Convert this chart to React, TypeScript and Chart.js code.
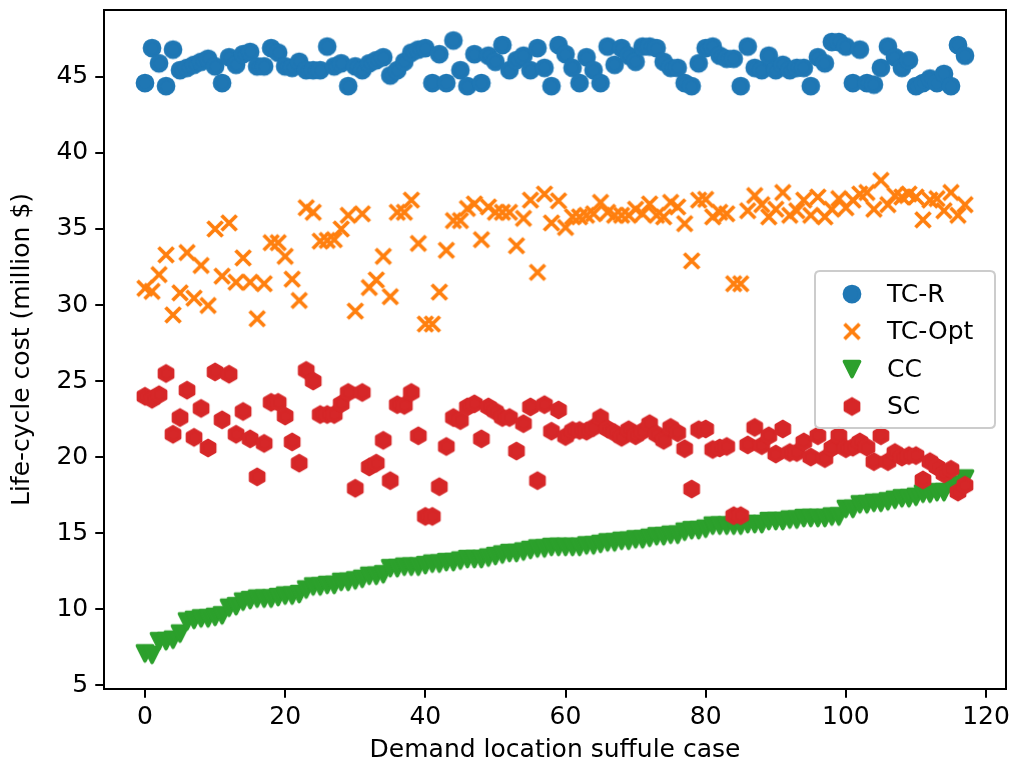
import React, { useEffect, useRef } from 'react';
import { Chart, registerables } from 'chart.js';

Chart.register(...registerables);

const FONT = '"DejaVu Sans", "Liberation Sans", sans-serif';
const FS = 25;

// x categories: demand location shuffle case index
const caseIndex: number[] = Array.from({ length: 118 }, (_, i) => i);

const xTicks = [0, 20, 40, 60, 80, 100, 120];
const yTicks = [5, 10, 15, 20, 25, 30, 35, 40, 45];

const seriesNames = ['TC-R', 'TC-Opt', 'CC', 'SC'];
const seriesColors = ['#1f77b4', '#ff7f0e', '#2ca02c', '#d62728'];

const tcR = [
  44.6, 46.9, 45.9, 44.4, 46.8, 45.45, 45.6, 45.8, 46.0, 46.2,
  45.7, 44.6, 46.3, 45.8, 46.5, 46.65, 45.7, 45.7, 46.9, 46.6,
  45.7, 45.6, 46.0, 45.45, 45.45, 45.45, 47.0, 45.7, 45.9, 44.4,
  45.7, 45.45, 45.9, 46.1, 46.3, 45.1, 45.45, 46.0, 46.6, 46.8,
  46.9, 44.6, 46.5, 44.6, 47.4, 45.45, 44.4, 46.5, 44.6, 46.4,
  46.0, 47.1, 45.45, 46.1, 46.4, 45.45, 46.9, 45.6, 44.4, 47.1,
  46.5, 45.6, 44.6, 46.3, 45.45, 44.6, 47.0, 45.8, 46.9, 46.4,
  46.0, 47.0, 47.0, 46.9, 46.0, 45.6, 45.6, 44.6, 44.4, 45.9,
  46.9, 47.0, 46.4, 46.2, 46.2, 44.4, 47.0, 45.6, 45.45, 46.4,
  45.45, 45.8, 45.45, 45.6, 45.6, 44.4, 46.3, 45.9, 47.3, 47.3,
  47.0, 44.6, 46.8, 44.6, 44.5, 45.6, 47.0, 46.3, 45.6, 46.1,
  44.4, 44.6, 44.9, 44.6, 45.2, 44.4, 47.1, 46.4,
];

const tcOpt = [
  31.1, 30.9, 32.0, 33.3, 29.35, 30.8, 33.45, 30.45, 32.6, 29.97,
  35.0, 31.9, 35.4, 31.5, 33.1, 31.5, 29.1, 31.4, 34.1, 34.1,
  33.2, 31.7, 30.3, 36.4, 36.1, 34.2, 34.25, 34.3, 35.0, 35.9,
  29.6, 36.0, 31.15, 31.65, 33.2, 30.55, 36.1, 36.1, 36.9, 34.05,
  28.75, 28.75, 30.85, 33.6, 35.55, 35.55, 36.35, 36.65, 34.3, 36.45,
  36.1, 36.1, 36.1, 33.9, 35.7, 36.9, 32.15, 37.3, 35.4, 36.85,
  35.1, 35.8, 35.8, 35.9, 36.0, 36.75, 36.1, 35.9, 35.9, 35.9,
  36.3, 36.0, 36.65, 35.9, 35.8, 36.75, 36.45, 35.35, 32.9, 36.9,
  36.95, 35.8, 36.1, 36.0, 31.4, 31.4, 36.2, 37.2, 36.6, 35.8,
  36.3, 37.4, 35.9, 36.2, 36.9, 35.9, 37.1, 35.8, 36.3, 37.0,
  36.4, 36.9, 37.3, 37.4, 36.3, 38.2, 36.6, 37.2, 37.1, 37.3,
  37.1, 35.6, 36.9, 37.0, 36.2, 37.4, 35.9, 36.6,
];

const cc = [
  7.1, 7.0, 7.9, 7.9, 8.0, 8.4, 9.2, 9.3, 9.4, 9.4,
  9.5, 9.6, 10.1, 10.2, 10.5, 10.6, 10.7, 10.7, 10.7, 10.8,
  10.9, 10.9, 11.0, 11.3, 11.5, 11.5, 11.6, 11.6, 11.8, 11.8,
  11.9, 12.0, 12.2, 12.2, 12.3, 12.7, 12.7, 12.8, 12.8, 12.8,
  12.9, 13.0, 13.0, 13.1, 13.1, 13.2, 13.3, 13.3, 13.3, 13.4,
  13.5, 13.6, 13.7, 13.7, 13.8, 13.9, 14.0, 14.0, 14.1, 14.1,
  14.1, 14.1, 14.1, 14.2, 14.2, 14.3, 14.4, 14.4, 14.5, 14.5,
  14.6, 14.6, 14.7, 14.8, 14.8, 14.9, 14.9, 15.1, 15.2, 15.2,
  15.3, 15.5, 15.5, 15.5, 15.5, 15.5, 15.6, 15.6, 15.6, 15.8,
  15.8, 15.8, 15.9, 15.9, 16.0, 16.0, 16.0, 16.0, 16.1, 16.1,
  16.6, 16.6, 16.9, 16.9, 17.0, 17.0, 17.1, 17.2, 17.3, 17.3,
  17.4, 17.6, 17.6, 17.7, 17.7, 18.2, 18.2, 18.6,
];

const sc = [
  24.0, 23.8, 24.1, 25.5, 21.5, 22.6, 24.4, 21.3, 23.2, 20.6,
  25.6, 22.45, 25.45, 21.5, 23.0, 21.2, 18.7, 20.9, 23.6, 23.6,
  22.7, 21.0, 19.6, 25.7, 25.0, 22.8, 22.8, 22.8, 23.5, 24.25,
  17.95, 24.25, 19.35, 19.6, 21.1, 18.45, 23.45, 23.4, 24.25, 21.4,
  16.1, 16.1, 18.05, 20.7, 22.6, 22.4, 23.3, 23.5, 21.2, 23.3,
  23.0, 22.6, 22.6, 20.4, 22.2, 23.3, 18.45, 23.45, 21.7, 23.1,
  21.35, 21.75, 21.75, 21.7, 21.95, 22.6, 21.85, 21.6, 21.3, 21.8,
  21.4, 21.7, 22.2, 21.5, 21.1, 21.95, 21.6, 20.55, 17.9, 21.8,
  21.85, 20.5, 20.6, 20.7, 16.15, 16.15, 20.8, 21.95, 20.75, 21.4,
  20.2, 21.85, 20.3, 20.3, 21.0, 20.0, 21.4, 19.9, 20.6, 21.4,
  20.55, 20.65, 21.0, 20.65, 19.7, 21.4, 19.7, 20.3, 20.0, 20.1,
  20.1, 18.5, 19.7, 19.35, 18.9, 19.2, 17.7, 18.15,
];

const seriesValues = [tcR, tcOpt, cc, sc];
const markerKinds = ['circle', 'x', 'triDown', 'hex'];

function makeMarker(kind: string, color: string): HTMLCanvasElement {
  const c = document.createElement('canvas');
  c.width = 26;
  c.height = 26;
  const ctx = c.getContext('2d') as CanvasRenderingContext2D;
  ctx.translate(13, 13);
  const h = 7.5;
  ctx.fillStyle = color;
  ctx.strokeStyle = color;
  ctx.lineWidth = 3.75;
  ctx.lineJoin = 'round';
  ctx.beginPath();
  if (kind === 'x') {
    ctx.lineCap = 'butt';
    ctx.moveTo(-h, -h);
    ctx.lineTo(h, h);
    ctx.moveTo(-h, h);
    ctx.lineTo(h, -h);
    ctx.stroke();
    return c;
  }
  if (kind === 'circle') {
    ctx.arc(0, 0, h, 0, Math.PI * 2);
  } else if (kind === 'triDown') {
    ctx.moveTo(0, h);
    ctx.lineTo(-h, -h);
    ctx.lineTo(h, -h);
    ctx.closePath();
  } else {
    for (let k = 0; k < 6; k++) {
      const a = -Math.PI / 2 + (k * Math.PI) / 3;
      const px = h * Math.cos(a);
      const py = h * Math.sin(a);
      if (k === 0) ctx.moveTo(px, py);
      else ctx.lineTo(px, py);
    }
    ctx.closePath();
  }
  ctx.fill();
  ctx.stroke();
  return c;
}

export default function App() {
  const ref = useRef<HTMLCanvasElement>(null);

  useEffect(() => {
    if (!ref.current) return;
    const markers = markerKinds.map((k, i) => makeMarker(k, seriesColors[i]));

    const frameLegend = {
      id: 'frameLegend',
      afterDraw(chart: any) {
        const { ctx, chartArea: a } = chart;
        ctx.save();
        ctx.strokeStyle = '#000';
        ctx.lineWidth = 2;
        ctx.strokeRect(a.left, a.top, a.right - a.left, a.bottom - a.top);

        const w = 180;
        const h = 157;
        const bx = a.right - 11 - w;
        const by = (a.top + a.bottom) / 2 - h / 2;
        const r = 5;
        ctx.beginPath();
        ctx.moveTo(bx + r, by);
        ctx.lineTo(bx + w - r, by);
        ctx.quadraticCurveTo(bx + w, by, bx + w, by + r);
        ctx.lineTo(bx + w, by + h - r);
        ctx.quadraticCurveTo(bx + w, by + h, bx + w - r, by + h);
        ctx.lineTo(bx + r, by + h);
        ctx.quadraticCurveTo(bx, by + h, bx, by + h - r);
        ctx.lineTo(bx, by + r);
        ctx.quadraticCurveTo(bx, by, bx + r, by);
        ctx.closePath();
        ctx.fillStyle = 'rgba(255,255,255,0.8)';
        ctx.fill();
        ctx.strokeStyle = '#cccccc';
        ctx.lineWidth = 2;
        ctx.stroke();

        ctx.font = `${FS}px ${FONT}`;
        ctx.fillStyle = '#000';
        ctx.textBaseline = 'middle';
        ctx.textAlign = 'left';
        seriesNames.forEach((name, i) => {
          const ry = by + 23 + i * 37.5;
          const m = markers[i];
          ctx.drawImage(m, bx + 37 - m.width / 2, ry - m.height / 2);
          ctx.fillText(name, bx + 72, ry + 1);
        });
        ctx.restore();
      },
    };

    const datasets = seriesNames.map((name, i) => ({
      label: name,
      data: caseIndex.map((x, j) => ({ x, y: seriesValues[i][j] })),
      pointStyle: markers[i] as any,
      pointRadius: 9,
      pointHoverRadius: 9,
      backgroundColor: seriesColors[i],
      borderColor: seriesColors[i],
      order: seriesNames.length - i,
    }));

    const gridOpts = {
      display: true,
      drawOnChartArea: false,
      drawTicks: true,
      tickLength: 8.75,
      color: '#000',
      lineWidth: 2,
    };

    const chart = new Chart(ref.current, {
      type: 'scatter',
      data: { datasets },
      plugins: [frameLegend],
      options: {
        animation: false,
        responsive: false,
        devicePixelRatio: 1,
        layout: { padding: { left: 0, top: 5, right: 7, bottom: 0 } },
        plugins: {
          legend: { display: false },
          tooltip: { enabled: false },
        },
        scales: {
          x: {
            type: 'linear',
            min: -5.85,
            max: 122.85,
            afterBuildTicks: (scale: any) => {
              scale.ticks = xTicks.map((v) => ({ value: v }));
            },
            afterFit: (scale: any) => {
              scale.height = 77;
              scale.paddingLeft = 0;
              scale.paddingRight = 0;
            },
            border: { display: false },
            grid: gridOpts,
            ticks: {
              autoSkip: false,
              maxRotation: 0,
              padding: 5,
              color: '#000',
              font: { family: FONT, size: FS },
            },
            title: {
              display: true,
              text: 'Demand location suffule case',
              color: '#000',
              font: { family: FONT, size: FS },
              padding: { top: 0, bottom: 1 },
            },
          },
          y: {
            type: 'linear',
            min: 4.75,
            max: 49.4,
            afterBuildTicks: (scale: any) => {
              scale.ticks = yTicks.map((v) => ({ value: v }));
            },
            afterFit: (scale: any) => {
              scale.width = 104;
              scale.paddingTop = 0;
              scale.paddingBottom = 0;
            },
            border: { display: false },
            grid: gridOpts,
            ticks: {
              autoSkip: false,
              padding: 7,
              color: '#000',
              font: { family: FONT, size: FS },
            },
            title: {
              display: true,
              text: 'Life-cycle cost (million $)',
              color: '#000',
              font: { family: FONT, size: FS },
              padding: { top: 7, bottom: 0 },
            },
          },
        },
      },
    });
    return () => chart.destroy();
  }, []);

  return (
    <div style={{ position: 'absolute', left: 0, top: 0, width: 1016, height: 766, background: '#fff' }}>
      <canvas ref={ref} width={1016} height={766} style={{ display: 'block' }} />
    </div>
  );
}
